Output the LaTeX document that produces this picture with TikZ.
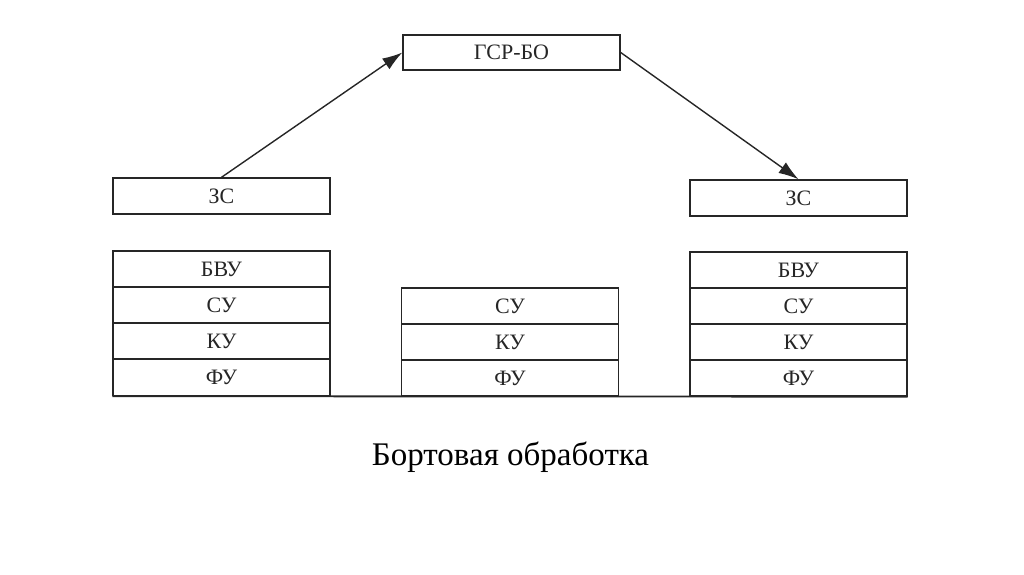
\documentclass[tikz,border=0pt]{standalone}
\usepackage{fontspec}
\setmainfont{Liberation Serif}
\usetikzlibrary{arrows.meta}
\definecolor{ink}{HTML}{262626}
\tikzset{
  blk/.style={draw=ink, line width=1.4pt, minimum width=217pt, minimum height=36pt, inner sep=0pt, text=ink, font=\fontsize{22}{22}\selectfont},
  conn/.style={draw=ink, line width=1.4pt, -{Latex[length=20pt,width=13pt]}}
}
\begin{document}
\begin{tikzpicture}[x=1pt,y=-1pt]
\useasboundingbox (0,0) rectangle (1024,574);
\node[blk, minimum height=35pt] (gsr) at (511.5,52.5) {ГСР-БО};
\node[blk] (lzs) at (221.5,196) {ЗС};
\node[blk] (rzs) at (798.5,198) {ЗС};
% left stack
\node[blk] (lbvu) at (221.5,269) {БВУ};
\node[blk] (lsu) at (221.5,305) {СУ};
\node[blk] (lku) at (221.5,341) {КУ};
\node[blk] (lfu) at (221.5,377.5) {ФУ};
% middle stack
\node[blk] (msu) at (510,306) {СУ};
\node[blk] (mku) at (510,342) {КУ};
\node[blk] (mfu) at (510,378) {ФУ};
% right stack
\node[blk] (rbvu) at (798.5,270) {БВУ};
\node[blk] (rsu) at (798.5,306) {СУ};
\node[blk] (rku) at (798.5,342) {КУ};
\node[blk] (rfu) at (798.5,378) {ФУ};
% ground line
\draw[draw=ink, line width=1.8pt] (lfu.south west) -- (rfu.south east);
% arrows
\draw[conn] (lzs.north) -- (gsr.west);
\draw[conn] (gsr.east) -- (rzs.north);
% caption
\node[anchor=base, font=\fontsize{33}{33}\selectfont, text=black] (cap) at (510.5,465) {Бортовая обработка};
\end{tikzpicture}
\end{document}
